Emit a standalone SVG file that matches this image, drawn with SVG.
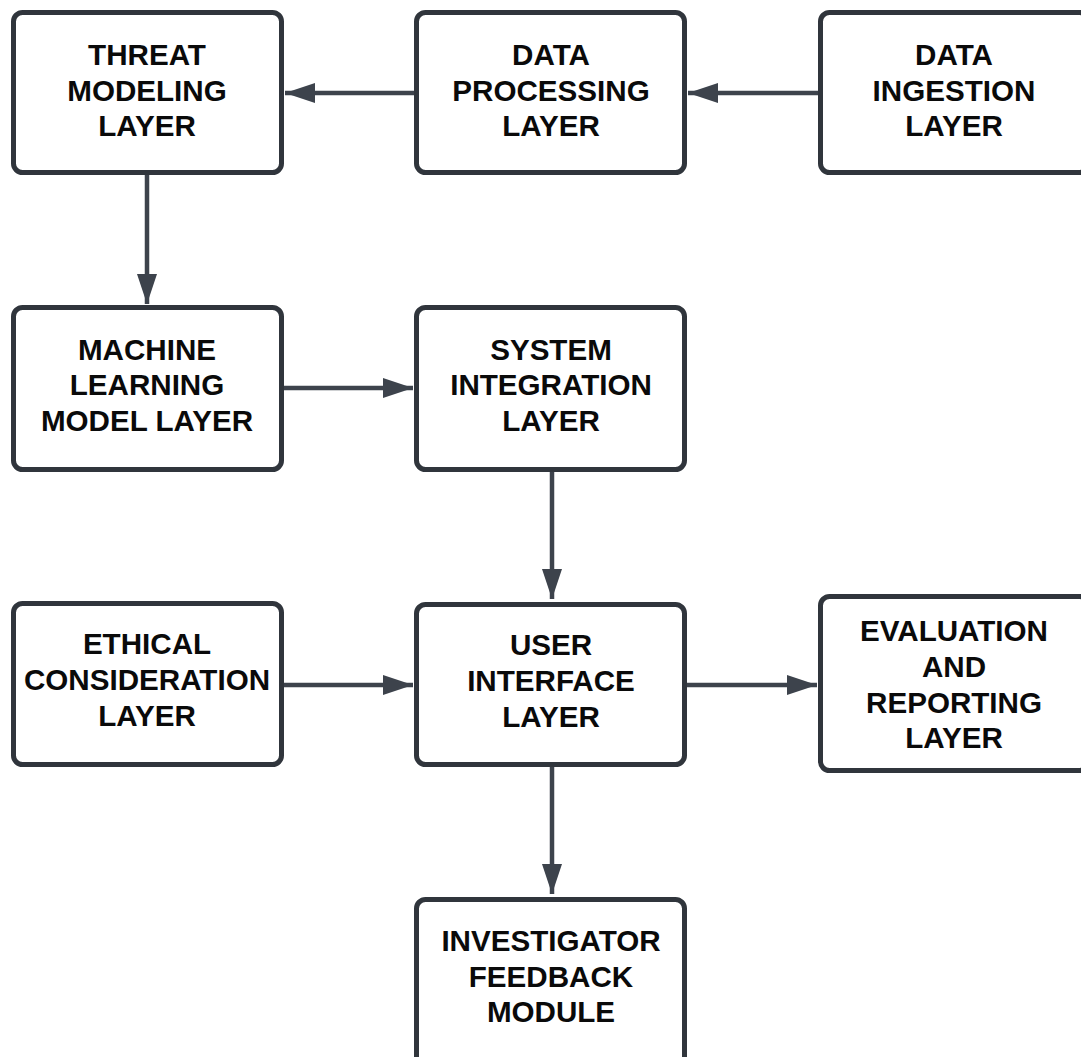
<svg xmlns="http://www.w3.org/2000/svg" width="1081" height="1057" viewBox="0 0 1081 1057">
<style>
.box{fill:#ffffff;stroke:#30353c;stroke-width:5;}
.lbl{font-family:"Liberation Sans",Arial,sans-serif;font-weight:bold;font-size:29.6px;fill:#0a0a0a;text-anchor:middle;}
.edge{stroke:#3d434c;stroke-width:4.5;fill:none;marker-end:url(#arr);}
</style>
<defs>
<marker id="arr" markerUnits="userSpaceOnUse" markerWidth="30" markerHeight="20" refX="30" refY="10" orient="auto">
<path d="M0,0 L30,10 L0,20 Z" fill="#3d434c"/>
</marker>
</defs>
<rect width="1081" height="1057" fill="#ffffff"/>
<g id="connectors">
<line class="edge" x1="414" y1="93" x2="285" y2="93"/>
<line class="edge" x1="818" y1="93" x2="688" y2="93"/>
<line class="edge" x1="147" y1="175" x2="147" y2="304"/>
<line class="edge" x1="284" y1="388" x2="413" y2="388"/>
<line class="edge" x1="552" y1="472" x2="552" y2="599"/>
<line class="edge" x1="284" y1="685" x2="413" y2="685"/>
<line class="edge" x1="687" y1="685" x2="817" y2="685"/>
<line class="edge" x1="552" y1="767" x2="552" y2="894"/>
</g>
<g id="threat">
<rect class="box" x="13.5" y="12.5" width="268" height="160" rx="9"/>
<text class="lbl"><tspan x="147" y="65">THREAT</tspan><tspan x="147" y="100.5">MODELING</tspan><tspan x="147" y="136">LAYER</tspan></text>
</g>
<g id="processing">
<rect class="box" x="416.5" y="12.5" width="268" height="160" rx="9"/>
<text class="lbl"><tspan x="551" y="65">DATA</tspan><tspan x="551" y="100.5">PROCESSING</tspan><tspan x="551" y="136">LAYER</tspan></text>
</g>
<g id="ingestion">
<rect class="box" x="820.5" y="12.5" width="268" height="160" rx="9"/>
<text class="lbl"><tspan x="954" y="65">DATA</tspan><tspan x="954" y="100.5">INGESTION</tspan><tspan x="954" y="136">LAYER</tspan></text>
</g>
<g id="ml">
<rect class="box" x="13.5" y="307.5" width="268" height="162" rx="9"/>
<text class="lbl"><tspan x="147" y="360">MACHINE</tspan><tspan x="147" y="395">LEARNING</tspan><tspan x="147" y="430.5">MODEL LAYER</tspan></text>
</g>
<g id="integration">
<rect class="box" x="416.5" y="307.5" width="268" height="162" rx="9"/>
<text class="lbl"><tspan x="551" y="360">SYSTEM</tspan><tspan x="551" y="395">INTEGRATION</tspan><tspan x="551" y="430.5">LAYER</tspan></text>
</g>
<g id="ethical">
<rect class="box" x="13.5" y="603.5" width="268" height="161" rx="9"/>
<text class="lbl"><tspan x="147" y="654">ETHICAL</tspan><tspan x="147" y="690">CONSIDERATION</tspan><tspan x="147" y="726">LAYER</tspan></text>
</g>
<g id="ui">
<rect class="box" x="416.5" y="604.5" width="268" height="160" rx="9"/>
<text class="lbl"><tspan x="551" y="655">USER</tspan><tspan x="551" y="690.5">INTERFACE</tspan><tspan x="551" y="726.5">LAYER</tspan></text>
</g>
<g id="evaluation">
<rect class="box" x="820.5" y="596.5" width="268" height="174" rx="9"/>
<text class="lbl"><tspan x="954" y="640.5">EVALUATION</tspan><tspan x="954" y="676.5">AND</tspan><tspan x="954" y="712.5">REPORTING</tspan><tspan x="954" y="748">LAYER</tspan></text>
</g>
<g id="investigator">
<rect class="box" x="416.5" y="899.5" width="268" height="200" rx="9"/>
<text class="lbl"><tspan x="551" y="951">INVESTIGATOR</tspan><tspan x="551" y="987">FEEDBACK</tspan><tspan x="551" y="1022">MODULE</tspan></text>
</g>
</svg>
